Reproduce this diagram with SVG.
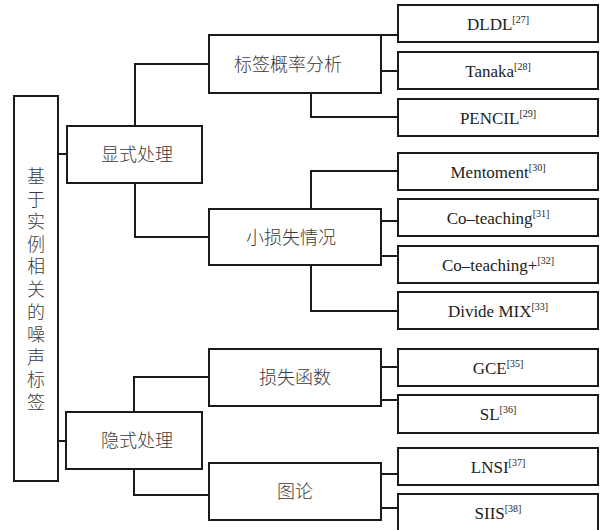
<svg xmlns="http://www.w3.org/2000/svg" width="610" height="530" viewBox="0 0 610 530">
<style>
.box{fill:#fff;stroke:#1a1a1a;stroke-width:2}
.cn{font-family:"Liberation Serif","Noto Sans CJK SC",serif;font-size:18px;font-weight:300;fill:#3a3a3a;text-anchor:middle}
.en{font-family:"Liberation Serif",serif;font-size:17px;fill:#222;text-anchor:middle}
.sup{font-size:10px}
#connectors path{fill:none;stroke:#1a1a1a;stroke-width:2}
</style>
<rect width="610" height="530" fill="#fff"/>
<g id="connectors">
<path d="M58,154 H67"/>
<path d="M135,126 V64 H209"/>
<path d="M135,183 V237 H209"/>
<path d="M381,35 H398"/>
<path d="M381,71 H398"/>
<path d="M311,93 V117 H398"/>
<path d="M311,209 V171 H398"/>
<path d="M381,221 H398"/>
<path d="M381,256 H398"/>
<path d="M311,265 V311 H398"/>
<path d="M58,441 H66"/>
<path d="M134,412 V377 H209"/>
<path d="M134,469 V495 H209"/>
<path d="M381,367 H398"/>
<path d="M381,400 H398"/>
<path d="M381,474 H398"/>
<path d="M381,508 H398"/>
</g>
<g id="root">
<rect class="box" x="14" y="96" width="44" height="385"/>
<text class="cn"><tspan x="36" y="183">基</tspan><tspan x="36" y="205.6">于</tspan><tspan x="36" y="228.2">实</tspan><tspan x="36" y="250.8">例</tspan><tspan x="36" y="273.4">相</tspan><tspan x="36" y="296">关</tspan><tspan x="36" y="318.6">的</tspan><tspan x="36" y="341.2">噪</tspan><tspan x="36" y="363.8">声</tspan><tspan x="36" y="386.4">标</tspan><tspan x="36" y="409">签</tspan></text>
</g>
<g id="explicit">
<rect class="box" x="67" y="126" width="135" height="57"/>
<text class="cn" x="137" y="161">显式处理</text>
</g>
<g id="implicit">
<rect class="box" x="66" y="412" width="136" height="57"/>
<text class="cn" x="137" y="447">隐式处理</text>
</g>
<g id="labelprob">
<rect class="box" x="209" y="35" width="172" height="58"/>
<text class="cn" x="288" y="71">标签概率分析</text>
</g>
<g id="smallloss">
<rect class="box" x="209" y="209" width="172" height="56"/>
<text class="cn" x="291" y="244">小损失情况</text>
</g>
<g id="lossfunc">
<rect class="box" x="209" y="349" width="172" height="57"/>
<text class="cn" x="295" y="384">损失函数</text>
</g>
<g id="graph">
<rect class="box" x="209" y="463" width="172" height="57"/>
<text class="cn" x="295" y="498">图论</text>
</g>
<g id="dldl">
<rect class="box" x="398" y="5" width="200" height="37"/>
<text class="en" x="498" y="30">DLDL<tspan class="sup" dy="-7">[27]</tspan></text>
</g>
<g id="tanaka">
<rect class="box" x="398" y="52" width="200" height="37"/>
<text class="en" x="498" y="77">Tanaka<tspan class="sup" dy="-7">[28]</tspan></text>
</g>
<g id="pencil">
<rect class="box" x="398" y="99" width="200" height="37"/>
<text class="en" x="498" y="124">PENCIL<tspan class="sup" dy="-7">[29]</tspan></text>
</g>
<g id="mentoment">
<rect class="box" x="398" y="153" width="200" height="37"/>
<text class="en" x="498" y="178">Mentoment<tspan class="sup" dy="-7">[30]</tspan></text>
</g>
<g id="coteaching">
<rect class="box" x="398" y="199" width="200" height="37"/>
<text class="en" x="498" y="224">Co–teaching<tspan class="sup" dy="-7">[31]</tspan></text>
</g>
<g id="coteachingplus">
<rect class="box" x="398" y="246" width="200" height="37"/>
<text class="en" x="498" y="271">Co–teaching+<tspan class="sup" dy="-7">[32]</tspan></text>
</g>
<g id="dividemix">
<rect class="box" x="398" y="292" width="200" height="37"/>
<text class="en" x="498" y="317">Divide MIX<tspan class="sup" dy="-7">[33]</tspan></text>
</g>
<g id="gce">
<rect class="box" x="398" y="349" width="200" height="37"/>
<text class="en" x="498" y="374">GCE<tspan class="sup" dy="-7">[35]</tspan></text>
</g>
<g id="sl">
<rect class="box" x="398" y="395" width="200" height="38"/>
<text class="en" x="498" y="420">SL<tspan class="sup" dy="-7">[36]</tspan></text>
</g>
<g id="lnsi">
<rect class="box" x="398" y="448" width="200" height="37"/>
<text class="en" x="498" y="473">LNSI<tspan class="sup" dy="-7">[37]</tspan></text>
</g>
<g id="siis">
<rect class="box" x="398" y="494" width="200" height="40"/>
<text class="en" x="498" y="519">SIIS<tspan class="sup" dy="-7">[38]</tspan></text>
</g>
</svg>
